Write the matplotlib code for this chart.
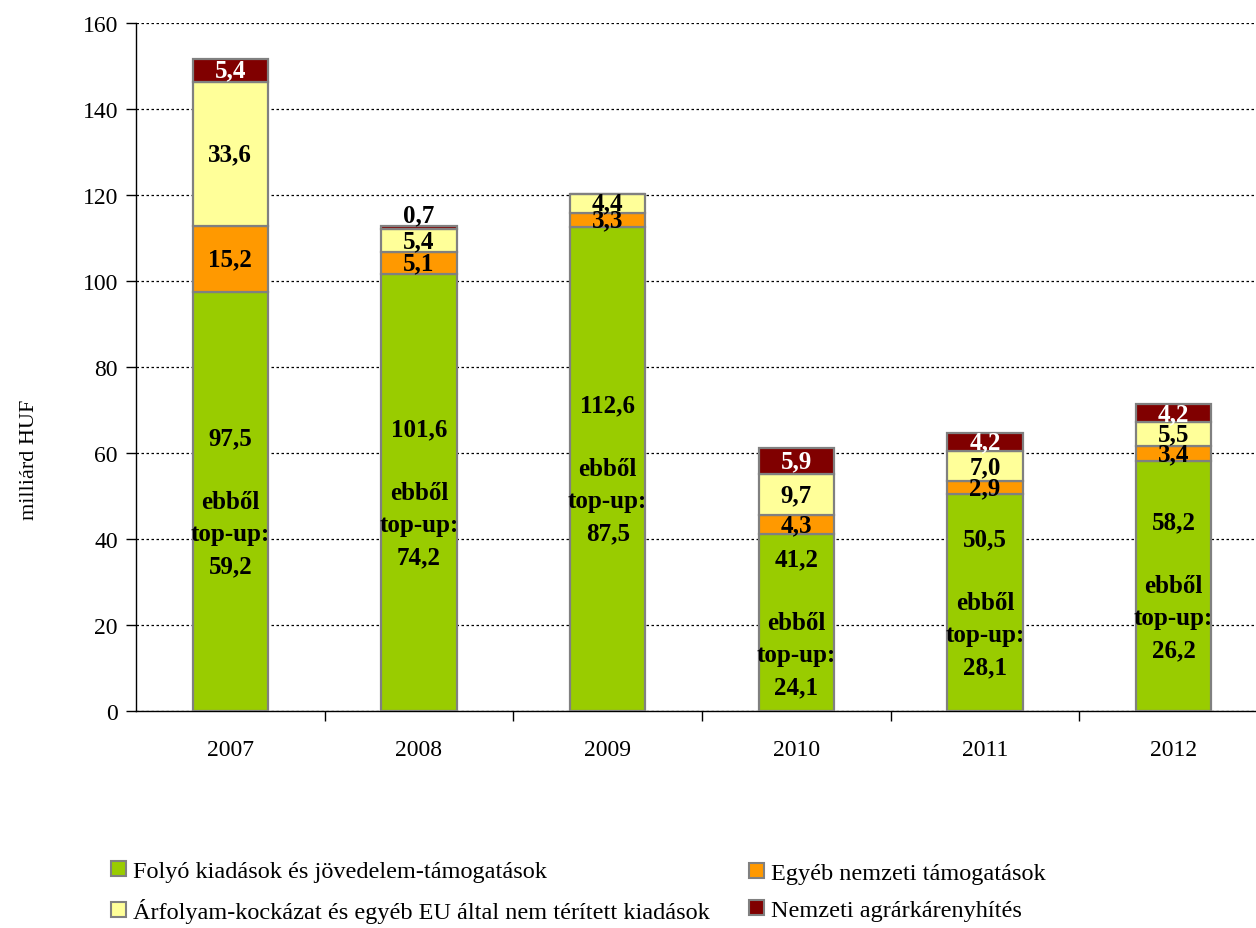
import matplotlib
matplotlib.use("Agg")
import matplotlib.pyplot as plt
from matplotlib.patches import Patch
import numpy as np

years = ["2007", "2008", "2009", "2010", "2011", "2012"]
folyo = [97.5, 101.6, 112.6, 41.2, 50.5, 58.2]
topup = [59.2, 74.2, 87.5, 24.1, 28.1, 26.2]
egyeb = [15.2, 5.1, 3.3, 4.3, 2.9, 3.4]
arfolyam = [33.6, 5.4, 4.4, 9.7, 7.0, 5.5]
karenyhites = [5.4, 0.7, 0.0, 5.9, 4.2, 4.2]

series_names = ["Folyó kiadások és jövedelem-támogatások",
                "Egyéb nemzeti támogatások",
                "Árfolyam-kockázat és egyéb EU által nem térített kiadások",
                "Nemzeti agrárkárenyhítés"]
colors = ["#99CC00", "#FF9900", "#FFFF99", "#800000"]
label_colors = ["black", "black", "black", "white"]

plt.rcParams['font.family'] = ['Liberation Serif', 'DejaVu Serif']

fig = plt.figure(figsize=(12.56, 9.29), dpi=100)
ax = fig.add_axes([136/1256, 217/929, 1132/1256, 688/929])

x = np.arange(len(years))
width = 0.40
series = [folyo, egyeb, arfolyam, karenyhites]
LFS = 18
bottom = np.zeros(len(years))
for si, vals in enumerate(series):
    vals = np.array(vals)
    ax.bar(x, vals, width, bottom=bottom, color=colors[si], edgecolor="#808080",
           linewidth=1.6, zorder=3)
    for i, v in enumerate(vals):
        if v <= 0:
            continue
        if si == 0:
            txt = f"{v:.1f}".replace(".", ",") + "\n\nebből\ntop-up:\n" + f"{topup[i]:.1f}".replace(".", ",")
            ax.text(x[i], bottom[i] + v / 2, txt, ha="center", va="center",
                    fontsize=LFS, fontweight="bold", color=label_colors[si],
                    linespacing=1.5, zorder=5)
        elif v < 1:
            ax.text(x[i], bottom[i] + v, f"{v:.1f}".replace(".", ","), ha="center",
                    va="bottom", fontsize=LFS, fontweight="bold",
                    color="black", zorder=5)
        else:
            ax.text(x[i], bottom[i] + v / 2, f"{v:.1f}".replace(".", ","), ha="center",
                    va="center", fontsize=LFS, fontweight="bold",
                    color=label_colors[si], zorder=5)
    bottom = bottom + vals

ax.set_xlim(-0.5, 5.5)
ax.set_ylim(0, 160)
ax.set_yticks(np.arange(0, 161, 20))
ax.tick_params(axis="y", labelsize=17, direction="out", length=7, width=1, pad=6)
ax.yaxis.grid(True, color="black", linestyle=(0, (2, 2)), linewidth=0.9, zorder=0)
ax.set_xticks(x)
ax.set_xticklabels(years)
ax.tick_params(axis="x", which="major", length=0, labelsize=17, pad=20)
ax.set_xticks(np.arange(0.5, 5.5, 1), minor=True)
ax.tick_params(axis="x", which="minor", length=7, width=1, direction="out")
for s in ["top", "right"]:
    ax.spines[s].set_visible(False)
ax.spines["left"].set_linewidth(1)
ax.spines["bottom"].set_linewidth(1)

fig.text(30/1256, 1 - 460/929, "milliárd HUF", rotation=90, ha="center", va="center",
         fontsize=16)

handles = [Patch(facecolor=c, edgecolor="#808080", linewidth=1.5) for c in colors]
leg_kw = dict(loc="center left", frameon=False, fontsize=17.5, handlelength=0.6,
              handleheight=0.6, handletextpad=0.3, labelspacing=0.65,
              borderaxespad=0, borderpad=0)
leg1 = fig.legend([handles[0], handles[2]], [series_names[0], series_names[2]],
                  bbox_to_anchor=(111/1256, 1 - 893/929), **leg_kw)
leg2 = fig.legend([handles[1], handles[3]], [series_names[1], series_names[3]],
                  bbox_to_anchor=(749/1256, 1 - 893/929), **leg_kw)

fig.savefig("out.png", dpi=100)
